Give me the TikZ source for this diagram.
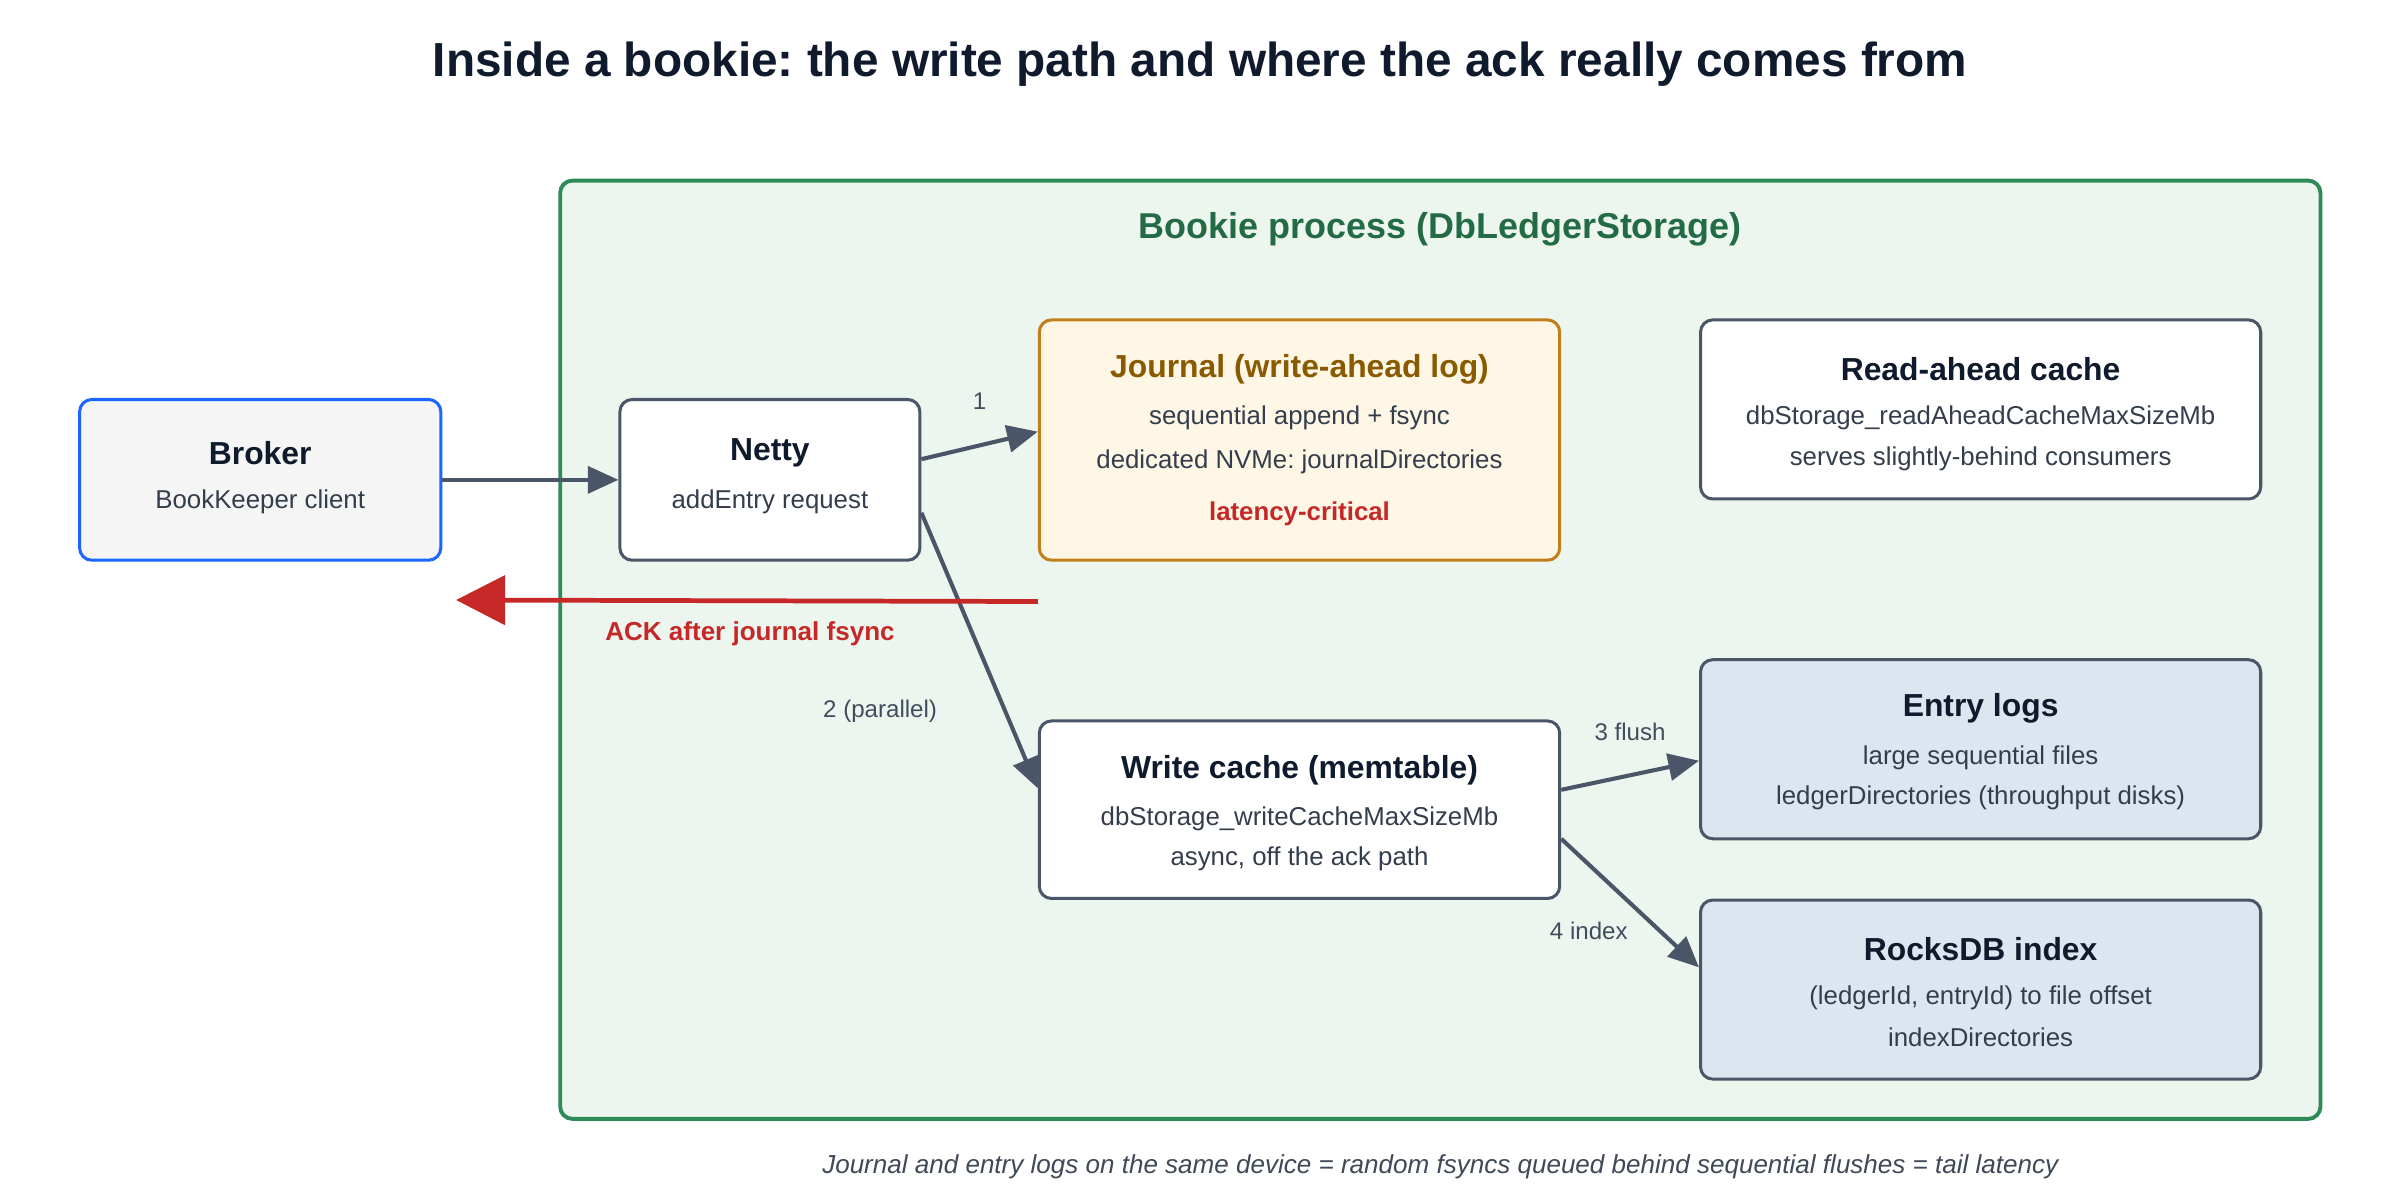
\documentclass[tikz,border=0pt]{standalone}
\usepackage{fontspec}
\setmainfont{Liberation Sans}
\usetikzlibrary{arrows.meta,calc}
\frenchspacing
\definecolor{ink}{HTML}{0F1B2D}
\definecolor{edge}{HTML}{4A5568}
\definecolor{bkgreen}{HTML}{2E8B57}
\definecolor{bkgreentxt}{HTML}{236B45}
\definecolor{bkfill}{HTML}{EDF6EE}
\definecolor{brblue}{HTML}{1A66FF}
\definecolor{jrfill}{HTML}{FEF7E6}
\definecolor{jredge}{HTML}{C07F1A}
\definecolor{jrtxt}{HTML}{8A5A00}
\definecolor{diskfill}{HTML}{DDE5F0}
\definecolor{ackred}{HTML}{C62828}
\begin{document}
\begin{tikzpicture}[x=0.25mm,y=-0.25mm]
	\tikzstyle{box}=[rectangle,rounded corners=2mm,draw=edge,fill=white,line width=1.4pt]
	\tikzstyle{ttl}=[font=\fontsize{14.8}{16}\selectfont\bfseries,text=ink]
	\tikzstyle{txt}=[font=\fontsize{12}{14}\selectfont,text=ink!85]
	\tikzstyle{lbl}=[font=\fontsize{11.2}{13}\selectfont,text=edge!90!black]
	\tikzstyle{flow}=[draw=edge,line width=1.9pt,-{Triangle[length=5mm,width=4.4mm]}]
	\useasboundingbox (0,0) rectangle (1568,784);

	% boxes
	\node[box,draw=bkgreen,fill=bkfill,line width=1.8pt,minimum width=287.5mm,minimum height=153.25mm] (bookie) at (941,424.5) {};
	\node[box,draw=brblue,fill=gray!8,minimum width=59mm,minimum height=26.25mm] (broker) at (170,313.5) {};
	\node[box,minimum width=49mm,minimum height=26.25mm] (netty) at (503,313.5) {};
	\node[box,draw=jredge,fill=jrfill,minimum width=85mm,minimum height=39.25mm] (journal) at (849,287.5) {};
	\node[box,minimum width=91.5mm,minimum height=29.25mm] (readahead) at (1294,267.5) {};
	\node[box,minimum width=85mm,minimum height=29mm] (wcache) at (849,529) {};
	\node[box,fill=diskfill,minimum width=91.5mm,minimum height=29.25mm] (entrylogs) at (1294,489.5) {};
	\node[box,fill=diskfill,minimum width=91.5mm,minimum height=29.25mm] (rocks) at (1294,646.5) {};

	% texts
	\node[font=\fontsize{22.2}{26}\selectfont\bfseries,text=ink] (title) at (784,42) {Inside a bookie: the write path and where the ack really comes from};
	\node[font=\fontsize{16.7}{20}\selectfont\bfseries,text=bkgreentxt] (bookie-t) at (941,150) {Bookie process (DbLedgerStorage)};
	\node[ttl] (broker-t) at (170,296) {Broker};
	\node[txt] (broker-1) at (170,328) {BookKeeper client};
	\node[ttl] (netty-t) at (503,296) {Netty};
	\node[txt] (netty-1) at (503,328) {addEntry request};
	\node[ttl,text=jrtxt] (journal-t) at (849,241) {Journal (write-ahead log)};
	\node[txt] (journal-1) at (849,273) {sequential append + fsync};
	\node[txt] (journal-2) at (849,302) {dedicated NVMe: journalDirectories};
	\node[txt,text=ackred,font=\fontsize{12}{14}\selectfont\bfseries] (journal-3) at (849,336) {latency-critical};
	\node[ttl] (readahead-t) at (1294,241) {Read-ahead cache};
	\node[txt] (readahead-1) at (1294,273) {dbStorage\_readAheadCacheMaxSizeMb};
	\node[txt] (readahead-2) at (1294,300) {serves slightly-behind consumers};
	\node[ttl] (wcache-t) at (849,503) {Write cache (memtable)};
	\node[txt] (wcache-1) at (849,535) {dbStorage\_writeCacheMaxSizeMb};
	\node[txt] (wcache-2) at (849,561) {async, off the ack path};
	\node[ttl] (entrylogs-t) at (1294,463) {Entry logs};
	\node[txt] (entrylogs-1) at (1294,495) {large sequential files};
	\node[txt] (entrylogs-2) at (1294,521) {ledgerDirectories (throughput disks)};
	\node[ttl] (rocks-t) at (1294,620) {RocksDB index};
	\node[txt] (rocks-1) at (1294,652) {(ledgerId, entryId) to file offset};
	\node[txt] (rocks-2) at (1294,678) {indexDirectories};
	\node[font=\fontsize{12.1}{14}\selectfont\itshape,text=ink!80] (footer) at (941,762) {Journal and entry logs on the same device = random fsyncs queued behind sequential flushes = tail latency};

	% connectors
	\coordinate (ackend) at (298,392);
	\draw[flow] (broker.east) -- (netty.west);
	\draw[flow] ($(netty.east)+(0,-13.5)$) -- ($(journal.west)+(0,-5.5)$);
	\node[lbl] (l1) at (640,262) {1};
	\draw[flow] ($(netty.east)+(0,21.5)$) -- ($(wcache.west)+(0,-14)$);
	\node[lbl] (l2) at (575,465) {2 (parallel)};
	\draw[flow] ($(wcache.east)+(0,-13)$) -- ($(entrylogs.west)+(0,7.5)$);
	\node[lbl] (l3) at (1065,478) {3 flush};
	\draw[flow] ($(wcache.east)+(0,19)$) -- ($(rocks.west)+(0,-14.5)$);
	\node[lbl] (l4) at (1038,608) {4 index};
	\draw[draw=ackred,line width=2.2pt,-{Triangle[length=8mm,width=8mm]}] ($(journal.south west)+(0,26)$) -- (ackend);
	\node[font=\fontsize{12.1}{14}\selectfont\bfseries,text=ackred] (ack-t) at (490,414) {ACK after journal fsync};
\end{tikzpicture}
\end{document}
